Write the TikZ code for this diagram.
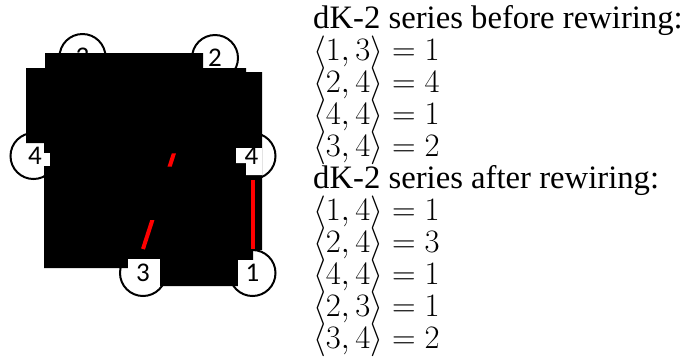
\RequirePackage{fix-cm}
\documentclass[tikz,border=0pt]{standalone}
\usepackage[no-math]{fontspec}
\setmainfont{Liberation Serif}
\newfontfamily\labelfont{Carlito}
\begin{document}
\begin{tikzpicture}[x=1pt,y=-1pt,
  vertex/.style={circle,draw=black,line width=2pt,minimum size=46pt,inner sep=0pt},
  vlabel/.style={font=\labelfont\fontsize{27}{27}\selectfont,inner sep=0pt},
  newedge/.style={draw=red,line width=4pt},
  mask/.style={fill=black},
  hole/.style={fill=white},
  row/.style={anchor=base west,inner sep=0pt,font=\fontsize{32.7}{32}\selectfont}]
\useasboundingbox (0,0) rectangle (688,360);

% vertices
\node[vertex] (v3t) at (82.5,57) {};
\node[vertex] (v2)  at (215,58) {};
\node[vertex] (v4l) at (33.5,156) {};
\node[vertex] (v4r) at (252.5,156) {};
\node[vertex] (v3b) at (143,273) {};
\node[vertex] (v1)  at (252.5,273) {};

% label hidden under the mask
\node[vlabel] (l3t) at (v3t) {3};

% opaque mask over the graph
\fill[mask] (45,53) rectangle (203,68)
  (26,68) rectangle (246,143)
  (246,72) rectangle (262,250)
  (44,143) rectangle (262,250)
  (44,250) rectangle (253,260)
  (44,260) rectangle (128,268)
  (128,260) rectangle (238,286);

% white patches behind the visible labels
\fill[hole] (20,153) rectangle (50,166);
\fill[hole] (236,148) rectangle (262,163) (246,163) rectangle (262,175);
\fill[hole] (128,259) rectangle (160,287);
\fill[hole] (238,260) rectangle (258,287);

\node[vlabel] (l2)  at (v2)  {2};
\node[vlabel] (l4l) at ([xshift=1.5pt]v4l) {4};
\node[vlabel] (l4r) at ([xshift=-1pt]v4r) {4};
\node[vlabel] (l3b) at (v3b) {3};
\node[vlabel] (l1)  at (v1)  {1};

% rewired edges
\draw[newedge] (v4r) -- (v1);
\begin{scope}
  \clip (0,153.3) rectangle (300,166.7) (0,220) rectangle (300,252);
  \draw[newedge] (v2.228) -- (v3b.north);
\end{scope}

% dK-2 series
\node[row] (t1) at (313,28)  {dK-2 series before rewiring:};
\node[row] (a1) at (313,60)  {$\langle 1,3\rangle = 1$};
\node[row] (a2) at (313,92)  {$\langle 2,4\rangle = 4$};
\node[row] (a3) at (313,124) {$\langle 4,4\rangle = 1$};
\node[row] (a4) at (313,156) {$\langle 3,4\rangle = 2$};
\node[row] (t2) at (313,188) {dK-2 series after rewiring:};
\node[row] (b1) at (313,220) {$\langle 1,4\rangle = 1$};
\node[row] (b2) at (313,252) {$\langle 2,4\rangle = 3$};
\node[row] (b3) at (313,284) {$\langle 4,4\rangle = 1$};
\node[row] (b4) at (313,316) {$\langle 2,3\rangle = 1$};
\node[row] (b5) at (313,348) {$\langle 3,4\rangle = 2$};
\end{tikzpicture}
\end{document}
